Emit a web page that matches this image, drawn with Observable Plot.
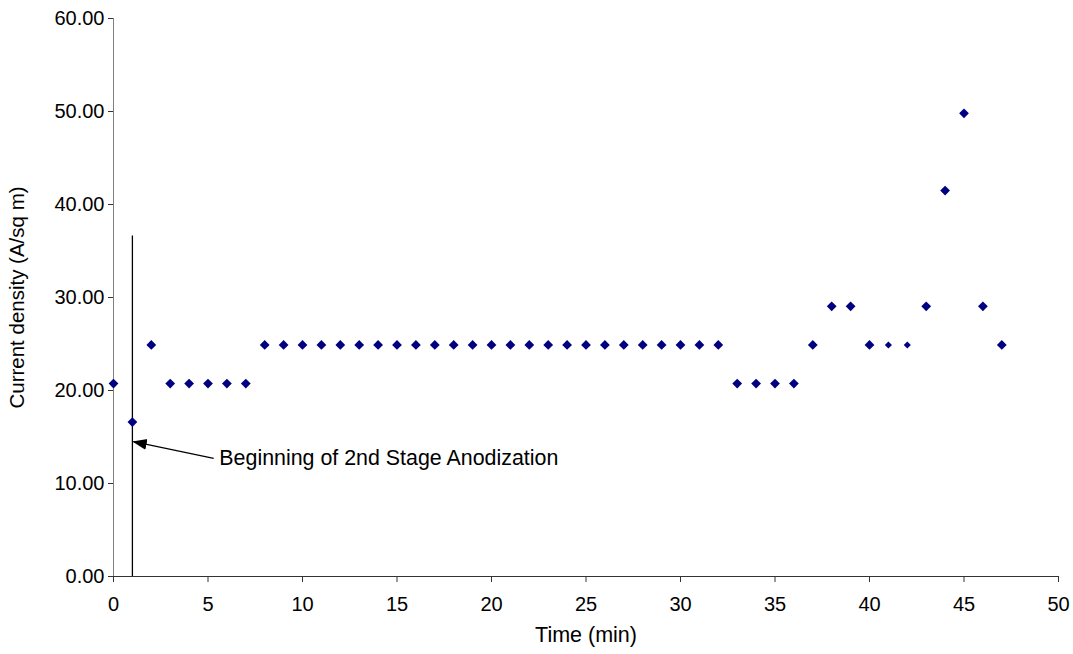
<!DOCTYPE html>
<html>
<head>
<meta charset="utf-8">
<script src="https://cdn.jsdelivr.net/npm/d3@7"></script>
<script src="https://cdn.jsdelivr.net/npm/@observablehq/plot@0.6"></script>
<style>
  html, body { margin: 0; padding: 0; background: #fff; }
  #chart svg { display: block; }
</style>
</head>
<body>
<div id="chart"></div>
<script>
// Time (min)
const times = [0,1,2,3,4,5,6,7,8,9,10,11,12,13,14,15,16,17,18,19,20,21,22,23,24,25,26,27,28,29,30,31,32,33,34,35,36,37,38,39,40,41,42,43,44,45,46,47];
// Current density (A/sq m)
const density = [20.75,16.6,24.9,20.75,20.75,20.75,20.75,20.75,
  24.9,24.9,24.9,24.9,24.9,24.9,24.9,24.9,24.9,24.9,24.9,24.9,24.9,24.9,24.9,24.9,24.9,24.9,24.9,24.9,24.9,24.9,24.9,24.9,24.9,
  20.75,20.75,20.75,20.75,24.9,29.05,29.05,24.9,24.9,24.9,29.05,41.5,49.8,29.05,24.9];
const xTicks = [0,5,10,15,20,25,30,35,40,45,50];
const yTicks = [0,10,20,30,40,50,60];
// annotation
const stageTime = [1];
const stageLineTop = [36.6];
const annotationText = ["Beginning of 2nd Stage Anodization"];
const arrowFrom = [5.3, 12.7];
const arrowTo = [1.06, 14.5];
const textAt = [5.6, 12.7];

const data = times.map((t, i) => ({t, v: density[i]}));

function filledArrow(color) {
  const m = d3.create("svg:marker")
    .attr("viewBox", "-6 -5 12 10")
    .attr("markerWidth", 12)
    .attr("markerHeight", 10)
    .attr("refX", 5)
    .attr("refY", 0)
    .attr("orient", "auto")
    .attr("fill", color)
    .attr("stroke", "none");
  m.append("path").attr("d", "M-6,-4.5L6,0L-6,4.5Z");
  return m.node();
}

const small = new Set([41, 42]);

const chart = Plot.plot({
  width: 1073,
  height: 654,
  marginLeft: 113,
  marginRight: 15,
  marginTop: 18,
  marginBottom: 78,
  style: {fontFamily: "'Liberation Sans', Arial, sans-serif", fontSize: "20px", color: "#000", background: "#fff"},
  x: {domain: [0, 50]},
  y: {domain: [0, 60]},
  marks: [
    Plot.axisX({ticks: xTicks, tickSize: 6, tickPadding: 14, stroke: "#333", label: null, fontSize: 20}),
    Plot.axisX({ticks: [], tickSize: 0, label: "Time (min)", labelAnchor: "center", labelArrow: "none", labelOffset: 65, fontSize: 21.5, tickFormat: () => ""}),
    Plot.axisY({ticks: yTicks, tickSize: 5, tickPadding: 4, tickFormat: d3.format(".2f"), stroke: "#333", label: null, fontSize: 20}),
    Plot.axisY({ticks: [], tickSize: 0, label: "Current density (A/sq m)", labelAnchor: "center", labelArrow: "none", labelOffset: 104, fontSize: 20.5, tickFormat: () => ""}),
    Plot.ruleX([0], {stroke: "#808080", strokeWidth: 1}),
    Plot.ruleY([0], {stroke: "#333", strokeWidth: 1}),
    Plot.ruleX(stageTime, {x: d => d, y1: 0, y2: stageLineTop[0], stroke: "#000", strokeWidth: 1.3}),
    Plot.link([0], {x1: () => arrowFrom[0], y1: () => arrowFrom[1], x2: () => arrowTo[0], y2: () => arrowTo[1], stroke: "#000", strokeWidth: 1.2, markerEnd: filledArrow}),
    Plot.text(annotationText, {x: () => textAt[0], y: () => textAt[1], text: d => d, textAnchor: "start", fontSize: 21.4, fill: "#000"}),
    Plot.dot(data.filter(d => !small.has(d.t)), {x: "t", y: "v", symbol: "diamond2", r: 4.4, fill: "#000080", stroke: "none"}),
    Plot.dot(data.filter(d => small.has(d.t)), {x: "t", y: "v", symbol: "diamond2", r: 3.2, fill: "#000080", stroke: "none"})
  ]
});
document.getElementById("chart").appendChild(chart);
</script>
</body>
</html>
